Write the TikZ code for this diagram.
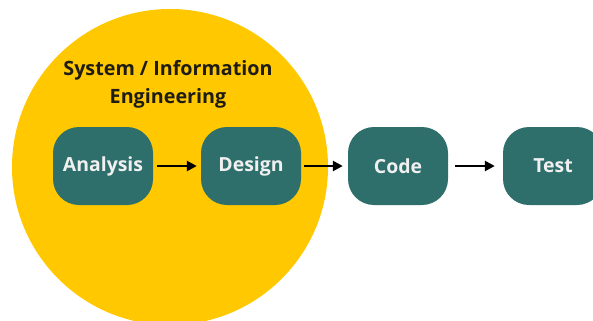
\documentclass[tikz,border=0pt]{standalone}
\usepackage{fontspec}
\setmainfont{Open Sans}
\usetikzlibrary{arrows.meta}
\definecolor{sunyellow}{RGB}{255,200,0}
\definecolor{stageteal}{RGB}{46,111,108}
\definecolor{titleink}{RGB}{30,28,20}
\tikzset{
  stagebox/.style={fill=stageteal, rounded corners=26bp, minimum width=100bp,
    minimum height=78bp, inner sep=0pt, text=white!94!black,
    font=\fontsize{19.5}{22}\selectfont\bfseries},
  flow/.style={-{Triangle[length=10bp,width=10bp]}, line width=2.8bp, black}
}
\begin{document}
\begin{tikzpicture}[x=1bp,y=-1bp]
  \useasboundingbox (0,0) rectangle (593,320);
  \clip (0,0) rectangle (593,320);
  % the scope of system / information engineering
  \fill[sunyellow] (170,167) circle[radius=158];
  \node[text=titleink, align=center, font=\fontsize{19.8}{28}\selectfont\bfseries]
    (title) at (168,84) {System / Information\\Engineering};
  % lifecycle stages
  \node[stagebox] (analysis) at (103,166) {Analysis};
  \node[stagebox] (design)   at (251,166) {Design};
  \node[stagebox] (code)     at (398,166) {Code};
  \node[stagebox] (test)     at (553,166) {Test};
  % flow between stages
  \draw[flow] ([xshift=4bp]analysis.east) -- ([xshift=-4bp]design.west);
  \draw[flow] ([xshift=3bp]design.east) -- ([xshift=-5bp]code.west);
  \draw[flow] ([xshift=7bp]code.east) -- ([xshift=-8bp]test.west);
\end{tikzpicture}
\end{document}
